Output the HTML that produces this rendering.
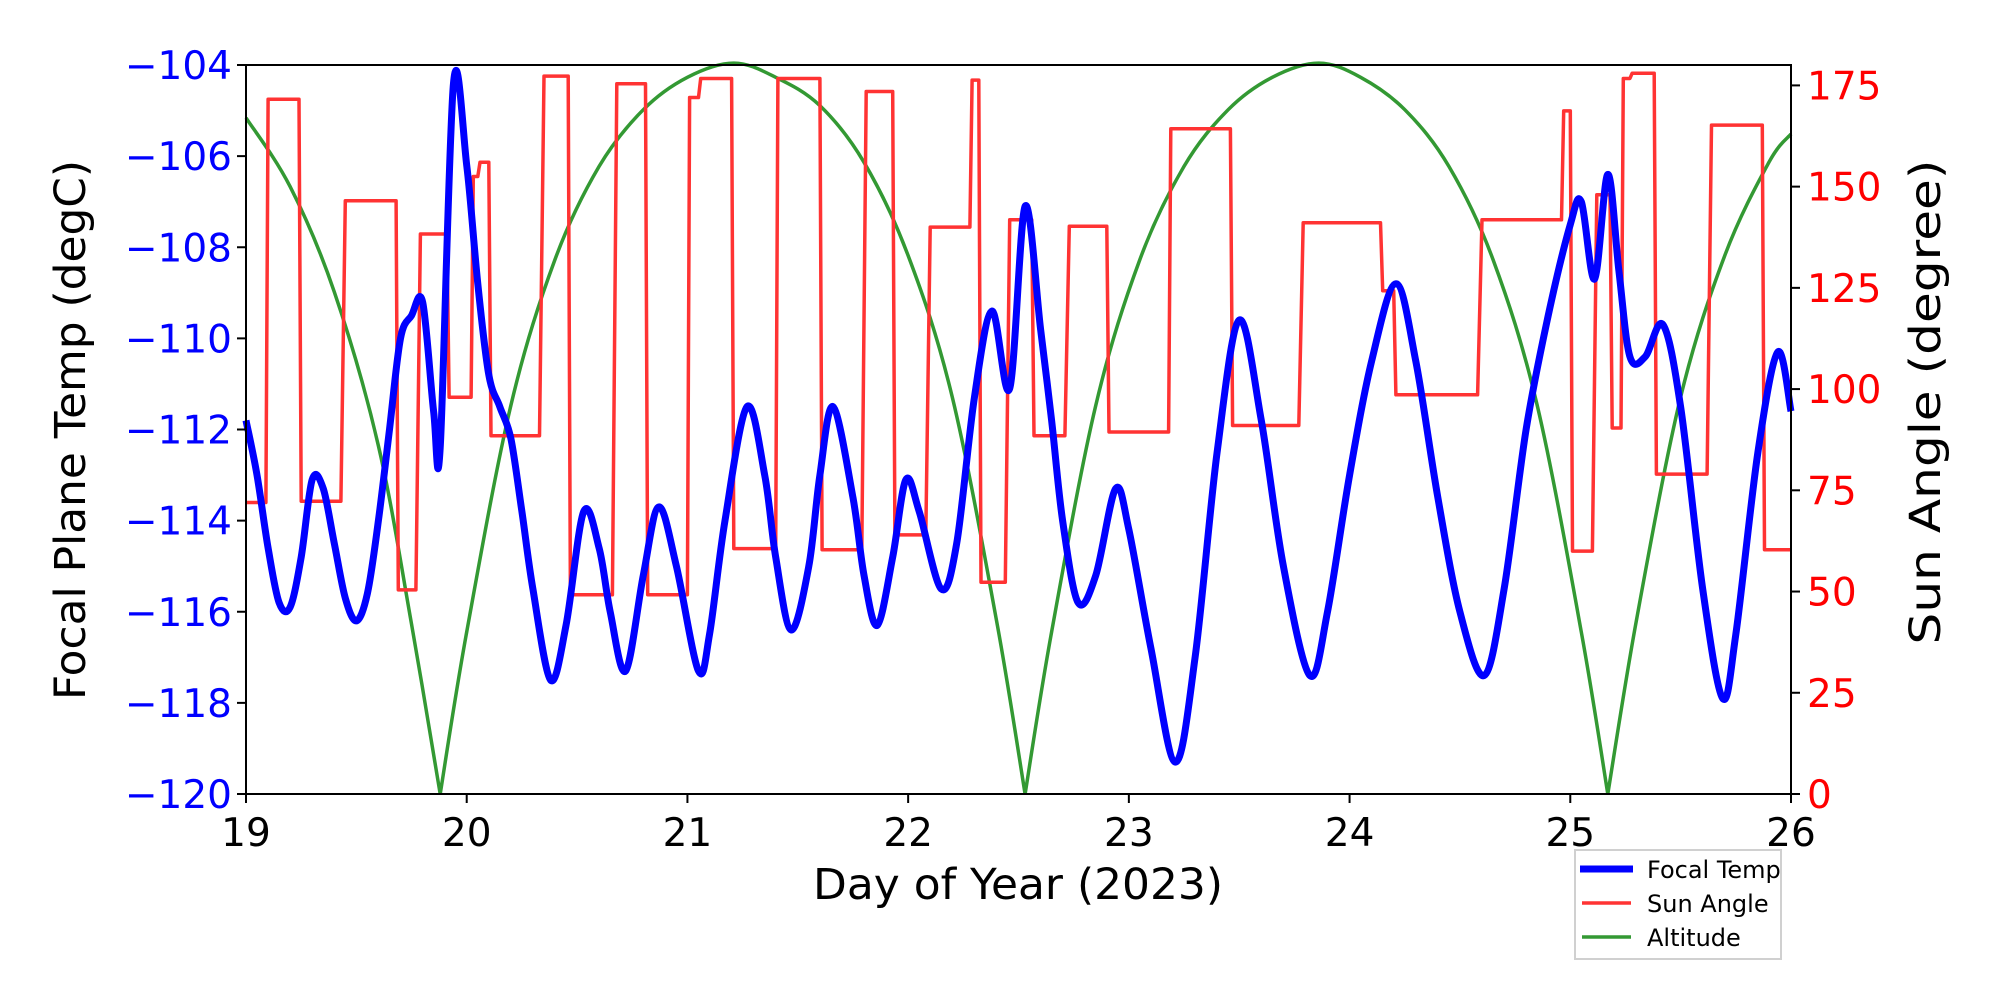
<!DOCTYPE html>
<html><head><meta charset="utf-8"><style>
html,body{margin:0;padding:0;background:#fff;}
svg{display:block;font-family:"DejaVu Sans","Liberation Sans",sans-serif;}
</style></head><body>
<svg id="chart" width="2000" height="1000" viewBox="0 0 2000 1000" xmlns="http://www.w3.org/2000/svg">
<rect x="0" y="0" width="2000" height="1000" fill="#fff"/>
<g id="series"></g>
<rect x="246" y="65" width="1545" height="729" fill="none" stroke="#000" stroke-width="2"/>
<g id="xticks"></g>
<g id="lticks"></g>
<g id="rticks"></g>
<text x="1018" y="899" font-size="43" text-anchor="middle" textLength="410" lengthAdjust="spacingAndGlyphs">Day of Year (2023)</text>
<text transform="translate(85,430) rotate(-90)" font-size="43" text-anchor="middle" textLength="540" lengthAdjust="spacingAndGlyphs">Focal Plane Temp (degC)</text>
<text transform="translate(1940,402) rotate(-90)" font-size="43" text-anchor="middle" textLength="485" lengthAdjust="spacingAndGlyphs">Sun Angle (degree)</text>
<g>
<rect x="1575" y="850" width="206" height="109" fill="#fff" stroke="#d0d0d0" stroke-width="2"/>
<line x1="1580" y1="869" x2="1633" y2="869" stroke="#0000ff" stroke-width="7"/>
<text x="1647" y="878" font-size="24">Focal Temp</text>
<line x1="1582" y1="903" x2="1631" y2="903" stroke="#ff3333" stroke-width="3.5"/>
<text x="1647" y="912" font-size="24">Sun Angle</text>
<line x1="1582" y1="937" x2="1631" y2="937" stroke="#339933" stroke-width="3.5"/>
<text x="1647" y="946" font-size="24">Altitude</text>
</g>
</svg>
<script>
const tempDays=[19.0,19.05,19.1,19.15,19.2,19.25,19.3,19.35,19.4,19.45,19.5,19.55,19.6,19.65,19.7,19.75,19.8,19.85,19.88,19.94,20.0,20.05,20.1,20.15,20.2,20.25,20.3,20.38,20.45,20.53,20.6,20.65,20.72,20.8,20.87,20.95,21.05,21.1,21.17,21.27,21.35,21.4,21.47,21.55,21.6,21.66,21.75,21.8,21.86,21.93,21.99,22.05,22.15,22.22,22.3,22.38,22.46,22.53,22.6,22.65,22.7,22.77,22.85,22.94,23.0,23.1,23.21,23.3,23.4,23.5,23.6,23.7,23.82,23.9,24.0,24.1,24.21,24.3,24.4,24.5,24.61,24.7,24.8,24.9,25.0,25.05,25.11,25.17,25.22,25.27,25.34,25.42,25.5,25.6,25.69,25.75,25.85,25.94,26.0];
const tempValues=[-111.8,-113,-114.6,-115.8,-115.9,-114.8,-113.1,-113.3,-114.5,-115.7,-116.2,-115.6,-114,-112,-110,-109.5,-109.2,-111.6,-112.4,-104.4,-106.2,-108.8,-110.8,-111.5,-112.2,-113.8,-115.5,-117.5,-116.3,-113.8,-114.6,-116,-117.3,-115.2,-113.7,-115,-117.3,-116.5,-114,-111.5,-113,-114.8,-116.4,-115,-113,-111.5,-113.5,-115.2,-116.3,-114.8,-113.1,-113.8,-115.5,-114.5,-111.3,-109.4,-111.1,-107.1,-109.8,-111.8,-114,-115.8,-115.2,-113.3,-114.2,-116.8,-119.3,-117,-112.5,-109.6,-111.8,-115,-117.4,-116,-113,-110.5,-108.8,-110.5,-113.5,-116,-117.4,-115.5,-112,-109.5,-107.5,-107,-108.7,-106.4,-108.5,-110.4,-110.4,-109.7,-111.5,-115.5,-117.9,-116.5,-112.5,-110.3,-111.6];
const sunStart=[19.0,19.1,19.25,19.45,19.69,19.79,19.92,20.03,20.06,20.11,20.35,20.47,20.68,20.82,21.01,21.06,21.21,21.41,21.61,21.81,21.94,22.1,22.29,22.33,22.46,22.57,22.73,22.91,23.19,23.47,23.79,24.15,24.21,24.6,24.97,25.01,25.12,25.19,25.24,25.28,25.39,25.64,25.88];
const sunEnd=[19.09,19.24,19.43,19.68,19.77,19.91,20.02,20.05,20.10,20.33,20.46,20.66,20.81,21.0,21.05,21.2,21.4,21.6,21.79,21.93,22.08,22.28,22.32,22.44,22.56,22.71,22.9,23.18,23.46,23.77,24.14,24.2,24.58,24.96,25.0,25.1,25.18,25.23,25.27,25.38,25.62,25.87,26.0];
const sunValues=[72,171.6,72.3,146.5,50.4,138.3,98,152.5,156,88.5,177.3,49.2,175.4,49.2,172,176.7,60.6,176.7,60.3,173.5,64,140,176.3,52.3,141.8,88.5,140.2,89.4,164.3,91,141.1,124.3,98.6,141.8,168.7,60,148,90.4,176.7,178,79,165.2,60.3];
const altDays=[19.0,19.2,19.4,19.6,19.75,19.88,20.0,20.2,20.4,20.6,20.8,21.0,21.21,21.4,21.6,21.8,22.0,22.2,22.4,22.53,22.65,22.85,23.05,23.25,23.45,23.65,23.86,24.05,24.25,24.45,24.65,24.85,25.05,25.17,25.3,25.5,25.7,25.9,26.0];
const altValues=[167,150,124,86,42,0,40,96,132,155,169,177,180.5,177,170,156,133,98,43,0,40,96,132,155,169,177,180.5,177,169,155,132,96,40,0,43,98,133,156,163];
const xTicks=[19,20,21,22,23,24,25,26];
const leftTicks=[-104,-106,-108,-110,-112,-114,-116,-118,-120];
const rightTicks=[0,25,50,75,100,125,150,175];

const L=246,R=1791,T=65,B=794;
function xs(d){return L+(d-19)/7*(R-L);}
function yT(t){return T+(-104-t)/16*(B-T);}
function yS(s){return B-s*(B-85.4)/175;}
const NS='http://www.w3.org/2000/svg';
function mk(tag,attrs,parent){const e=document.createElementNS(NS,tag);for(const k in attrs)e.setAttribute(k,attrs[k]);parent.appendChild(e);return e;}
function smooth(pts,move){let d=(move?'M':'L')+pts[0][0].toFixed(1)+','+pts[0][1].toFixed(1);
for(let i=0;i<pts.length-1;i++){const p0=pts[Math.max(0,i-1)],p1=pts[i],p2=pts[i+1],p3=pts[Math.min(pts.length-1,i+2)];
const c1=[p1[0]+(p2[0]-p0[0])/6,p1[1]+(p2[1]-p0[1])/6],c2=[p2[0]-(p3[0]-p1[0])/6,p2[1]-(p3[1]-p1[1])/6];
d+=' C'+c1.map(v=>v.toFixed(1)).join(',')+' '+c2.map(v=>v.toFixed(1)).join(',')+' '+p2[0].toFixed(1)+','+p2[1].toFixed(1);}
return d;}
const S=document.getElementById('series');
// altitude: smooth each arc separately so cusps at 0 stay sharp
let ad='';let seg=[];let first=true;
altDays.forEach((d,i)=>{seg.push([xs(d),yS(altValues[i])]);
if(altValues[i]===0||i===altDays.length-1){if(seg.length>1){ad+=smooth(seg,first)+' ';first=false;}seg=[[xs(d),yS(altValues[i])]];}});
const alt=mk('path',{d:ad,fill:'none',stroke:'#339933','stroke-width':3.5,'stroke-linejoin':'miter'},S);


// sun angle
let sd='';
sunStart.forEach((s,i)=>{sd+=(i===0?'M':'L')+xs(s).toFixed(1)+','+yS(sunValues[i]).toFixed(1)+' L'+xs(sunEnd[i]).toFixed(1)+','+yS(sunValues[i]).toFixed(1)+' ';});
const sun=mk('path',{d:sd,fill:'none',stroke:'#ff3333','stroke-width':3.5,'stroke-linejoin':'round'},S);


// focal temp
const tPts=tempDays.map((d,i)=>[xs(d),yT(tempValues[i])]);
const tl=mk('path',{d:smooth(tPts,true),fill:'none',stroke:'#0000ff','stroke-width':7,'stroke-linejoin':'round'},S);


// x ticks
const XG=document.getElementById('xticks');
xTicks.forEach(v=>{const x=xs(v);
const l=mk('line',{x1:x,y1:B,x2:x,y2:B+9,stroke:'#000','stroke-width':2},XG);


const t=mk('text',{x:x,y:B+52,'font-size':39,'text-anchor':'middle'},XG);t.textContent=v;

});
const LG=document.getElementById('lticks');
leftTicks.forEach(v=>{const y=yT(v);
const l=mk('line',{x1:L-9,y1:y,x2:L,y2:y,stroke:'#000','stroke-width':2},LG);


const t=mk('text',{x:L-14,y:y+14,'font-size':39,'text-anchor':'end',fill:'#0000ff'},LG);t.textContent='\u2212'+Math.abs(v);

});
const RG=document.getElementById('rticks');
rightTicks.forEach(v=>{const y=yS(v);
const l=mk('line',{x1:R,y1:y,x2:R+9,y2:y,stroke:'#000','stroke-width':2},RG);


const t=mk('text',{x:R+16,y:y+14,'font-size':39,'text-anchor':'start',fill:'#ff0000'},RG);t.textContent=v;

});
</script>
</body></html>
